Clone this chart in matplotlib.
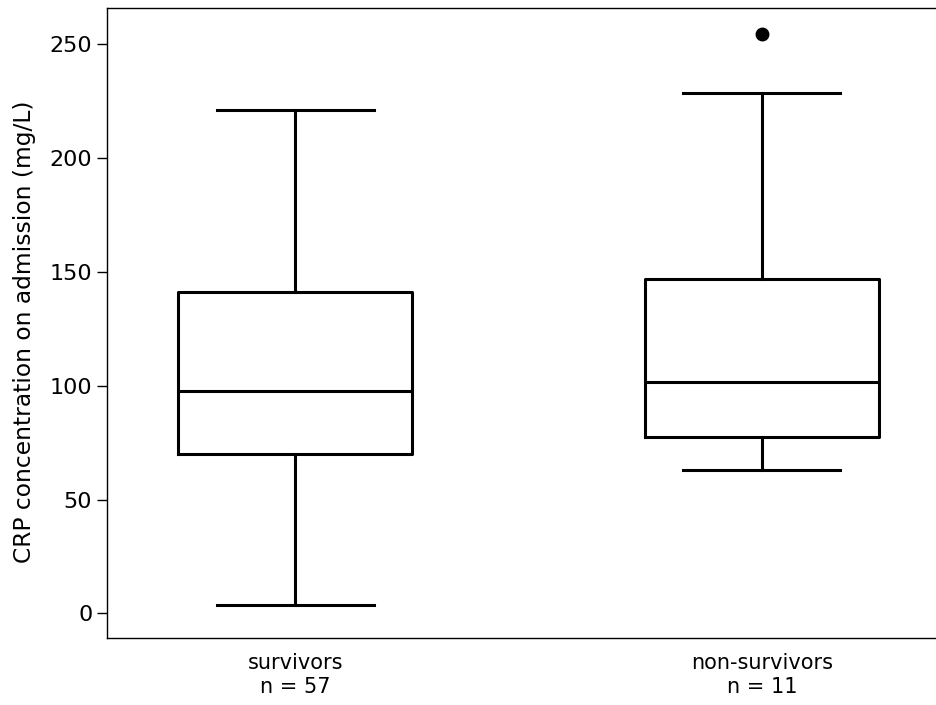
import matplotlib
matplotlib.use("Agg")
import matplotlib.pyplot as plt

# box summary values (mg/L)
groups = ["survivors", "non-survivors"]
counts = [57, 11]
medians = [97.5, 101.5]
q1s = [70.0, 77.4]
q3s = [141.0, 146.7]
whis_lo = [3.6, 63.0]
whis_hi = [221.2, 228.5]
fliers = [[], [254.3]]

yticks = [0, 50, 100, 150, 200, 250]

stats = []
for i in range(len(groups)):
    stats.append({
        "med": medians[i], "q1": q1s[i], "q3": q3s[i],
        "whislo": whis_lo[i], "whishi": whis_hi[i],
        "fliers": fliers[i], "label": f"{groups[i]}\nn = {counts[i]}",
    })

fig = plt.figure(figsize=(9.37, 7.05), dpi=100)
ax = fig.add_axes([0.1142, 0.095, 0.8997, 0.8936])

lw = 2.2
ax.bxp(stats, positions=[1, 2], widths=0.5, capwidths=0.336,
       boxprops=dict(color="black", linewidth=lw),
       whiskerprops=dict(color="black", linewidth=lw),
       capprops=dict(color="black", linewidth=lw),
       medianprops=dict(color="black", linewidth=lw),
       flierprops=dict(marker="o", markerfacecolor="black",
                       markeredgecolor="black", markersize=9))

ax.set_xlim(0.597, 2.403)
ax.set_ylim(-10.8, 265.8)
ax.set_yticks(yticks)
ax.set_yticklabels([str(t) for t in yticks], fontsize=16, family="DejaVu Sans")
for lab in ax.get_xticklabels():
    lab.set_fontsize(15)
    lab.set_linespacing(1.25)
ax.tick_params(axis="y", length=7, width=1, pad=3.6, color="black")
ax.tick_params(axis="x", length=0, pad=11)

for s in ax.spines.values():
    s.set_linewidth(1)

ax.set_ylabel("CRP concentration on admission (mg/L)", fontsize=16.8,
              family="DejaVu Sans")
ax.yaxis.set_label_coords(-0.084, 0.486)

fig.savefig("out.png", dpi=100)
